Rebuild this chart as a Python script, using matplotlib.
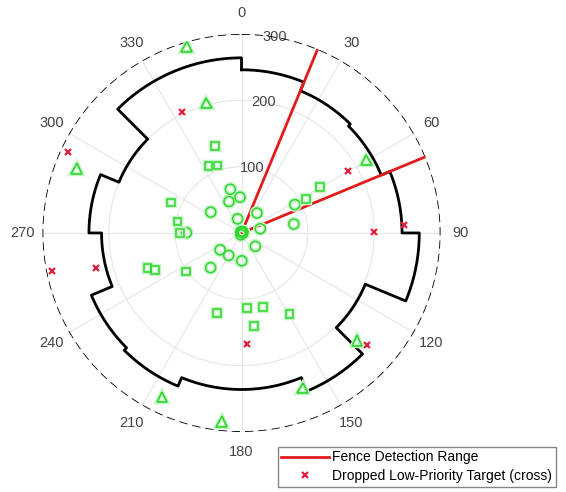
import numpy as np
import matplotlib.pyplot as plt
import matplotlib.patheffects as pe

plt.rcParams['font.family'] = ['Liberation Sans', 'DejaVu Sans']

# fence radius for each 22.5 deg sector, clockwise from north
fence_r = [246, 232, 228, 242, 268, 202, 258, 236, 236, 250, 245, 211, 230, 200, 264, 264]
beam_deg = [22.5, 67.5]
max_range = 300
r_ticks = [100, 200, 300]
theta_ticks = list(range(0, 360, 30))

# targets: bearing (deg) and range
circ_th = [345.7, 338.2, 357.6, 304.1, 344.4, 37.8, 77.3, 270.3, 0, 134, 231.7,
           209.8, 179.4, 221.7, 62, 80.3, 200, 320, 100, 45]
circ_r = [68, 51, 54, 56, 22, 38, 29, 83, 2, 29, 41, 39, 42, 70, 91, 80, 3, 2, 2, 3]

sq_th = [342.9, 333.8, 340.4, 293.4, 280.1, 270.2, 249.7, 246.6, 235.3, 59.8,
         62.1, 196.8, 175.6, 163.5, 149.4, 172.5]
sq_r = [137, 113, 108, 116, 98, 93, 151, 142, 102, 137, 110, 126, 113, 116, 142, 141]

tri_th = [343.6, 344.9, 291.4, 59.7, 132.9, 158.5, 205.9, 186]
tri_r = [293, 203, 267, 218, 238, 251, 275, 286]

drop_th = [333.8, 295, 60.1, 89.4, 87.2, 258.7, 256.5, 177.3, 131.7]
drop_r = [204, 288, 186, 199, 245, 292, 225, 167, 254]

green = '#2fd62f'
glow = [pe.Stroke(linewidth=3.2, foreground='#c8f5c8'), pe.Normal()]

fig = plt.figure(figsize=(5.66, 4.92), dpi=100)
ax = fig.add_axes([0.0751, 0.122, 0.7032, 0.809], projection='polar')
ax.set_theta_zero_location('N')
ax.set_theta_direction(-1)
ax.set_ylim(0, max_range)

# stepped fence outline
edges = np.linspace(0, 360, len(fence_r) + 1)
fth, fr = [], []
for i, r in enumerate(fence_r):
    seg = np.linspace(edges[i], edges[i + 1], 30)
    fth.extend(seg)
    fr.extend([r] * len(seg))
fth.append(fth[0])
fr.append(fr[0])
ax.plot(np.radians(fth), fr, color='black', lw=2.0, zorder=3)

# outer range ring
ring = np.linspace(0, 2 * np.pi, 400)
ax.plot(ring, [max_range] * len(ring), color='black', lw=1.2, dashes=(5, 3), zorder=3)

# beam edges
bth, br = [], []
for b in beam_deg:
    bth += [np.radians(b), np.radians(b), np.nan]
    br += [0, max_range, np.nan]
ax.plot(bth, br, color='#e31a1c', lw=2.0, zorder=4, label='Fence Detection Range')

ax.plot(np.radians(circ_th), circ_r, 'o', ms=7.2, mfc='none', mec=green, mew=1.1,
        path_effects=glow, zorder=5)
ax.plot(np.radians(sq_th), sq_r, 's', ms=5.6, mfc='none', mec=green, mew=1.1,
        path_effects=glow, zorder=5)
ax.plot(np.radians(tri_th), tri_r, '^', ms=7.5, mfc='none', mec=green, mew=1.2,
        path_effects=glow, zorder=5)
ax.plot(np.radians(drop_th), drop_r, 'x', ms=5, mec='#e0203c', mew=1.6, ls='none',
        zorder=6, label='Dropped Low-Priority Target (cross)')

# grid, with labels placed on fixed rings
ax.set_thetagrids(theta_ticks, [''] * len(theta_ticks))
ax.set_rticks(r_ticks)
ax.set_yticklabels([])
for a in theta_ticks:
    ax.text(np.radians(a), max_range * 1.103, str(a), ha='center', va='center',
            fontsize=10.5, color='#444444')
for rt in r_ticks:
    ax.text(np.radians(9.6), rt, str(rt), ha='center', va='center',
            fontsize=10.5, color='#444444', zorder=2)
ax.grid(color='#e6e6e6', lw=0.8)
ax.spines['polar'].set_visible(False)

leg = fig.legend(loc='upper left', bbox_to_anchor=(278 / 566, 1 - 447 / 492),
                 fontsize=10, frameon=True, fancybox=False, handlelength=3.4,
                 handletextpad=0.25, labelspacing=0.35, borderpad=0.25,
                 borderaxespad=0)
leg.get_frame().set_edgecolor('#666666')
leg.get_frame().set_linewidth(1.0)

fig.savefig('out.png', dpi=100)
